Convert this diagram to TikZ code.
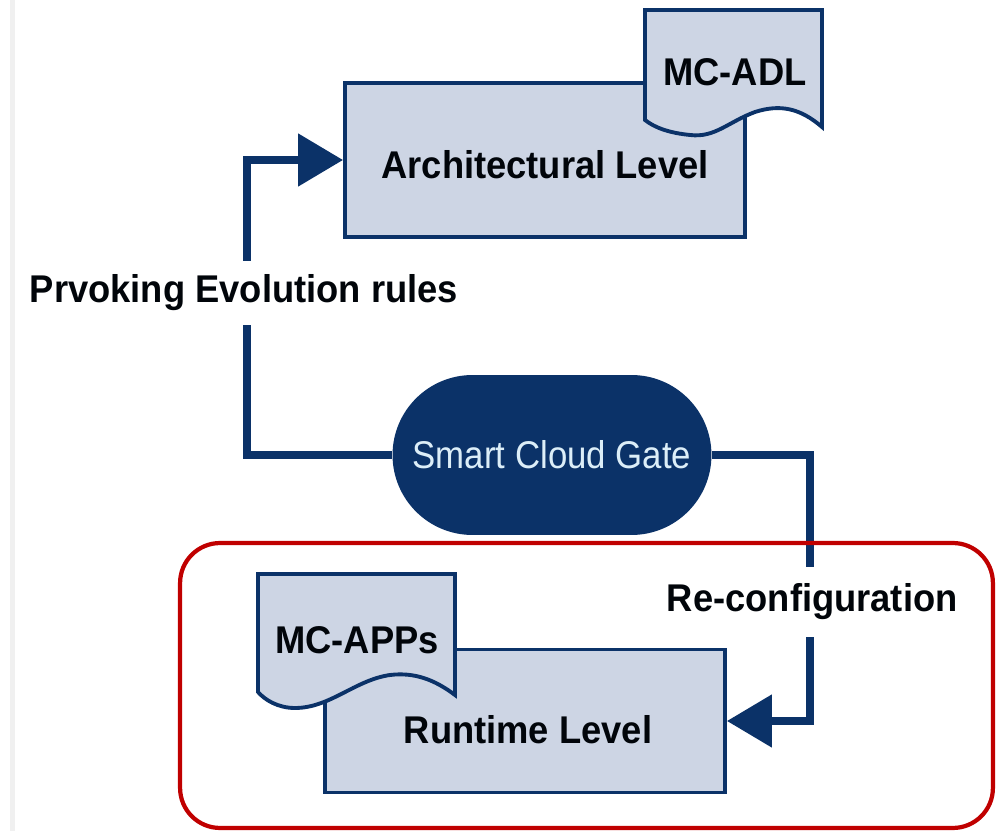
\documentclass[tikz,border=0pt]{standalone}
\usepackage{fontspec}
\setmainfont{Liberation Sans}
\newfontfamily\boldnarrow[FakeStretch=0.94]{Liberation Sans Bold}
\newfontfamily\regnarrow[FakeStretch=0.9]{Liberation Sans}
\usetikzlibrary{arrows.meta}
\definecolor{navy}{HTML}{0B3268}
\definecolor{boxfill}{HTML}{CDD5E4}
\definecolor{frame}{HTML}{C00000}
\definecolor{gatetext}{HTML}{DCEEF8}
\begin{document}
\begin{tikzpicture}[x=0.02cm,y=-0.02cm,
  level/.style={draw=navy,fill=boxfill,line width=2.2pt,minimum width=8cm,minimum height=3.08cm,inner sep=0pt},
  docshape/.style={draw=navy,fill=boxfill,line width=2.2pt},
  lbl/.style={font=\boldnarrow\fontsize{22}{26}\selectfont,text=black!90!navy},
  conn/.style={draw=navy,line width=4.6pt,-{Triangle[length=0.9cm,width=1.02cm]}}]
\useasboundingbox (0,0) rectangle (1002,831);
\fill[white] (0,0) rectangle (1002,831);
\fill[gray!12] (10,0) rectangle (15,831);
% Architectural level
\node[level] (arch) at (545,160) {};
\draw[docshape] (645,10) -- (822,10) -- (822,127)
  .. controls (800,108) and (780,104) .. (755,112)
  .. controls (728,122) and (715,138) .. (690,135)
  .. controls (670,133) and (655,128) .. (645,120) -- cycle;
\node[lbl] (adl) at (735,72) {MC-ADL};
\node[lbl] (archt) at (545,165) {Architectural Level};
% Smart cloud gate
\node[fill=navy,rounded corners=1.6cm,minimum width=6.38cm,minimum height=3.2cm,text=gatetext,font=\regnarrow\fontsize{22}{26}\selectfont] (scg) at (552,455) {Smart Cloud Gate};
% Runtime level
\node[level,minimum width=8cm,minimum height=2.86cm] (rt) at (525,721) {};
\draw[docshape] (258,574) -- (455,574) -- (455,695)
  .. controls (435,680) and (415,672) .. (390,675)
  .. controls (355,680) and (330,708) .. (295,708)
  .. controls (278,708) and (265,700) .. (258,692) -- cycle;
\node[lbl] (apps) at (357,640) {MC-APPs};
\node[lbl] (rtt) at (528,730) {Runtime Level};
% connectors
\draw[conn] (scg.west) -- ++(-145,0) |- (arch.west);
\draw[conn] (scg.east) -- ++(98,0) |- (rt.east);
% labels
\node[lbl,anchor=west,fill=white,minimum height=1.3cm,inner xsep=2pt] (evo) at (26,293) {Prvoking Evolution rules};
\node[lbl,anchor=west,fill=white,minimum height=1.4cm,inner xsep=2pt] (reconf) at (663,602) {Re-configuration};
% red frame
\node[draw=frame,line width=2.4pt,rounded corners=0.8cm,minimum width=16.26cm,minimum height=5.7cm] (frame) at (586.5,685.5) {};
\end{tikzpicture}
\end{document}
